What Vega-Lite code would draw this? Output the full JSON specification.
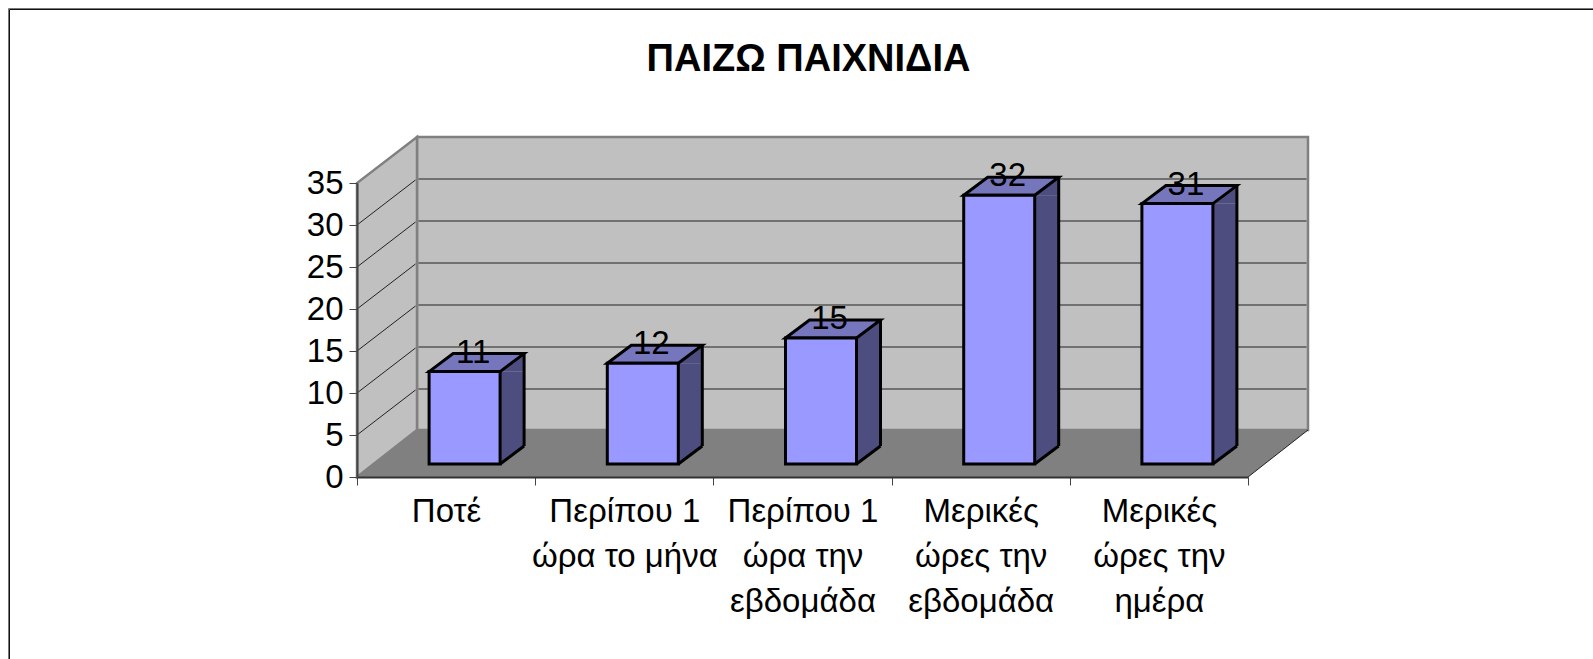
{
"$schema":"https://vega.github.io/schema/vega-lite/v6.json",
"autosize":{"type":"none"},
"padding":{"left":357,"top":183,"right":345,"bottom":182},
"width":891,"height":294,
"background":"white",
"title":{"text":"ΠΑΙΖΩ ΠΑΙΧΝΙΔΙΑ","font":"Liberation Sans","fontSize":38,"fontWeight":"bold","color":"black","anchor":"middle","dx":6,"offset":-102,"baseline":"alphabetic"},
"config":{"view":{"stroke":null},"font":"Liberation Sans"},
"datasets":{
"bars":[
{"cat":"Ποτέ","value":11},
{"cat":"Περίπου 1\nώρα το μήνα","value":12},
{"cat":"Περίπου 1\nώρα την\nεβδομάδα","value":15},
{"cat":"Μερικές\nώρες την\nεβδομάδα","value":32},
{"cat":"Μερικές\nώρες την\nημέρα","value":31}],
"ticks":[{"cat":"Ποτέ","value":5},{"cat":"Ποτέ","value":10},{"cat":"Ποτέ","value":15},{"cat":"Ποτέ","value":20},{"cat":"Ποτέ","value":25},{"cat":"Ποτέ","value":30}],
"anchor":[{"cat":"Ποτέ","value":0}]
},
"data":{"name":"bars"},
"encoding":{
"x":{"field":"cat","type":"nominal","sort":null,"title":null,
"scale":{"type":"band","domain":["Ποτέ","Περίπου 1\nώρα το μήνα","Περίπου 1\nώρα την\nεβδομάδα","Μερικές\nώρες την\nεβδομάδα","Μερικές\nώρες την\nημέρα"],"paddingInner":0,"paddingOuter":0},
"axis":{"labelAngle":0,"labelExpr":"split(datum.label,'\\n')","labelFont":"Liberation Sans","labelFontSize":33,"labelLineHeight":45,"labelColor":"black","labelLimit":400,"labelPadding":10,"labelBaseline":"top","tickBand":"extent","tickSize":8,"tickColor":"#444444","tickWidth":1,"domainColor":"#333333","domainWidth":2,"grid":false,"zindex":1}},
"y":{"field":"value","type":"quantitative","title":null,
"scale":{"domain":[0,35],"nice":false},
"axis":{"values":[0,5,10,15,20,25,30,35],"labelFont":"Liberation Sans","labelFontSize":33,"labelColor":"black","labelPadding":6,"tickSize":8,"tickColor":"#444444","tickWidth":1,"domainColor":"#444444","domainWidth":2,"grid":false,"zindex":1}}
},
"layer":[
{"data":{"name":"anchor"},"mark":{"type":"point","size":4,"opacity":1,"filled":false,"stroke":"#777777","strokeWidth":1,"shape":"M-437.6,182L-437.6,-468.5L1146.9,-468.5"}},
{"data":{"name":"anchor"},"mark":{"type":"point","size":4,"opacity":1,"filled":false,"stroke":"#111111","strokeWidth":1,"shape":"M-436.6,182L-436.6,-467.5L1146.9,-467.5"}},
{"data":{"name":"anchor"},"mark":{"type":"point","size":4,"opacity":1,"filled":true,"fill":"#c0c0c0","stroke":"#808080","strokeWidth":2.5,"shape":"M-29.1,-47L-29.1,-340L861.9,-340L861.9,-47Z"}},
{"data":{"name":"anchor"},"mark":{"type":"point","size":4,"opacity":1,"filled":true,"fill":"#c0c0c0","stroke":"#808080","strokeWidth":2.5,"shape":"M-89.1,0L-29.1,-47L-29.1,-340L-89.1,-294Z"}},
{"data":{"name":"anchor"},"mark":{"type":"point","size":4,"opacity":1,"filled":true,"fill":"#808080","shape":"M-89.1,0L-29.1,-47L861.9,-47L801.9,0Z"}},
{"data":{"name":"anchor"},"mark":{"type":"point","size":4,"opacity":1,"filled":false,"stroke":"#222222","strokeWidth":1,"shape":"M801.9,0L861.9,-47"}},
{"data":{"name":"ticks"},"mark":{"type":"rule","color":"#222222","strokeWidth":1,"xOffset":-27.6,"x2Offset":147.6,"yOffset":-46,"y2Offset":-46},"encoding":{"x2":{"datum":"Μερικές\nώρες την\nημέρα"}}},
{"data":{"name":"ticks"},"mark":{"type":"point","size":4,"opacity":1,"filled":false,"stroke":"#222222","strokeWidth":1,"shape":"M-89.1,0L-30.6,-45"}},
{"mark":{"type":"rule","color":"#4d4d80","strokeWidth":24,"strokeCap":"butt","xOffset":66,"yOffset":-13,"y2Offset":-31},"encoding":{"y2":{"datum":0}}},
{"mark":{"type":"point","size":4,"opacity":1,"filled":true,"fill":"#4d4d80","shape":"M54,-13L78,-13L78,-31Z"}},
{"mark":{"type":"point","size":4,"opacity":1,"filled":true,"fill":"#4d4d80","shape":"M54,-13L54,-31L78,-31Z"},"encoding":{"y":{"datum":0,"type":"quantitative"}}},
{"mark":{"type":"rule","color":"black","strokeWidth":3,"xOffset":78,"yOffset":-31,"y2Offset":-31},"encoding":{"y2":{"datum":0}}},
{"mark":{"type":"point","size":4,"opacity":1,"filled":false,"stroke":"black","strokeWidth":3,"shape":"M54,-13L78,-31"},"encoding":{"y":{"datum":0,"type":"quantitative"}}},
{"mark":{"type":"point","size":4,"opacity":1,"filled":true,"fill":"#7676bd","stroke":"black","strokeWidth":3,"shape":"M-17,-13L7,-31L78,-31L54,-13Z"}},
{"mark":{"type":"bar","width":71,"fill":"#9999ff","stroke":"black","strokeWidth":3,"xOffset":18.5,"yOffset":-13,"y2Offset":-13},"encoding":{"y2":{"datum":0}}},
{"mark":{"type":"text","font":"Liberation Sans","fontSize":33,"color":"black","baseline":"alphabetic","align":"center","xOffset":27,"yOffset":-22},"encoding":{"text":{"field":"value","type":"quantitative"}}}
]
}
